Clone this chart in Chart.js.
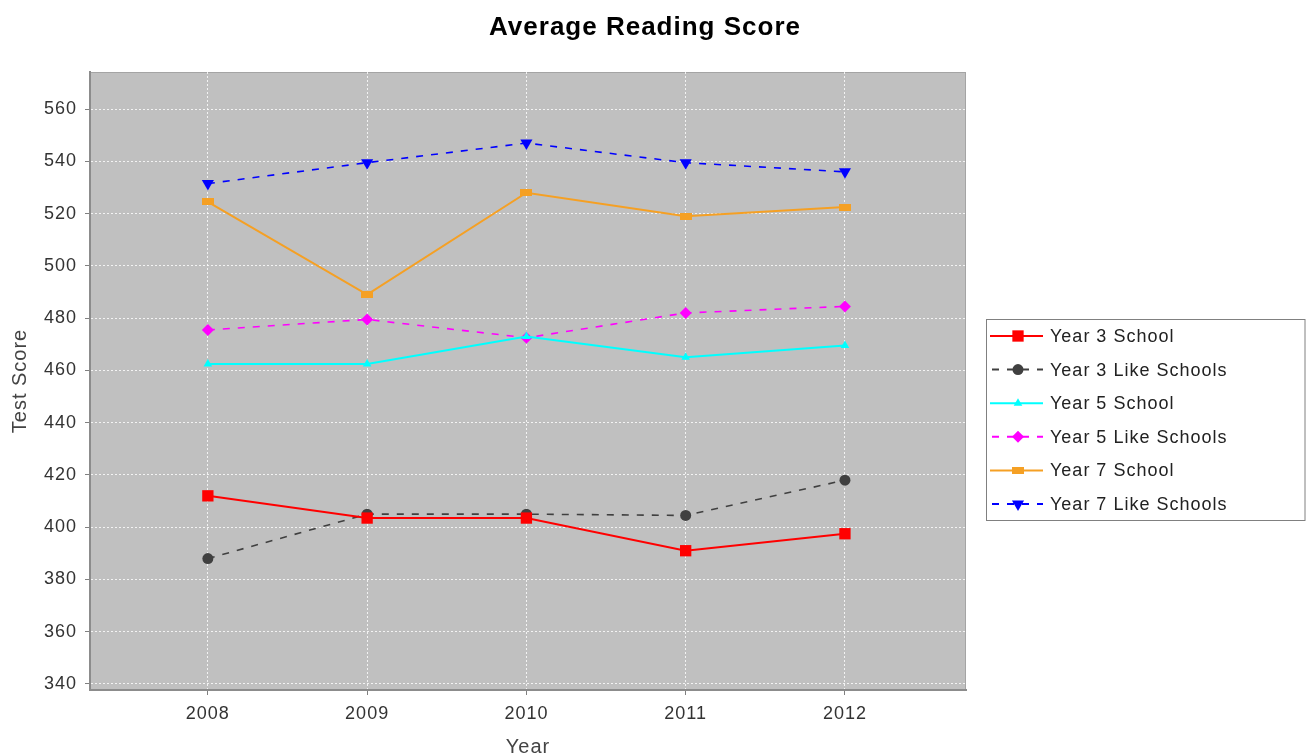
<!DOCTYPE html>
<html>
<head>
<meta charset="utf-8">
<title>Average Reading Score</title>
<script src="https://cdn.jsdelivr.net/npm/chart.js@4.4.1/dist/chart.umd.min.js"></script>
<style>
  html, body { margin: 0; background: #fff; }
  canvas { display: block; }
</style>
</head>
<body>
<canvas id="chart" width="1306" height="756"></canvas>
<script>
const years = [2008, 2009, 2010, 2011, 2012];
const yTickValues = [340, 360, 380, 400, 420, 440, 460, 480, 500, 520, 540, 560];
const seriesNames = ['Year 3 School', 'Year 3 Like Schools', 'Year 5 School', 'Year 5 Like Schools', 'Year 7 School', 'Year 7 Like Schools'];
const year3School = [412, 403.5, 403.5, 391, 397.5];
const year3Like   = [388, 405, 405, 404.5, 418];
const year5School = [462.5, 462.5, 473, 465, 469.5];
const year5Like   = [475.5, 479.5, 472.5, 482, 484.5];
const year7School = [524.5, 489, 528, 519, 522.5];
const year7Like   = [531.5, 539.5, 547, 539.5, 536];

const FONT = '"Liberation Sans", Arial, sans-serif';
const DASH = [7, 8];

// horizontal rectangle marker (JFreeChart style) as an image point style
function hRect(color){
  const c = document.createElement('canvas');
  c.width = 12; c.height = 7;
  const g = c.getContext('2d');
  g.fillStyle = color; g.fillRect(0, 0, 12, 7);
  return c;
}

function series(label, values, color, style, opts={}){
  return {
    label,
    data: values.map((v,i)=>({x: years[i], y: v})),
    borderColor: color, backgroundColor: color,
    pointBackgroundColor: color, pointBorderColor: color, pointBorderWidth: 0,
    borderWidth: 2, pointStyle: style, tension: 0,
    ...opts
  };
}

const datasets = [
  series(seriesNames[0], year3School, '#ff0000', 'rect', {pointRadius: 8}),
  series(seriesNames[1], year3Like, '#404040', 'circle', {pointRadius: 5.5, borderDash: DASH, borderWidth: 1.6}),
  series(seriesNames[2], year5School, '#00ffff', 'triangle', {pointRadius: 5}),
  series(seriesNames[3], year5Like, '#ff00ff', 'rectRot', {pointRadius: 6, borderDash: DASH, borderWidth: 1.6}),
  series(seriesNames[4], year7School, '#f5a024', hRect('#f5a024'), {pointRadius: 6}),
  series(seriesNames[5], year7Like, '#0000ff', 'triangle', {pointRadius: 7, pointRotation: 180, borderDash: DASH, borderWidth: 1.6})
];

function drawMarker(ctx, ds, x, y){
  const r = ds.pointRadius;
  ctx.fillStyle = ds.pointBackgroundColor;
  ctx.beginPath();
  const st = ds.pointStyle;
  if (st === 'rect') {
    const s = r * Math.SQRT1_2;
    ctx.rect(x - s, y - s, 2*s, 2*s);
  } else if (st === 'circle') {
    ctx.arc(x, y, r, 0, Math.PI*2);
  } else if (st === 'rectRot') {
    ctx.moveTo(x, y - r); ctx.lineTo(x + r, y); ctx.lineTo(x, y + r); ctx.lineTo(x - r, y);
  } else if (st === 'triangle') {
    const d = ds.pointRotation ? -1 : 1;
    ctx.moveTo(x, y - d*r);
    ctx.lineTo(x + r*0.866, y + d*r*0.5);
    ctx.lineTo(x - r*0.866, y + d*r*0.5);
  } else {
    ctx.drawImage(st, x - st.width/2, y - st.height/2);
    return;
  }
  ctx.closePath();
  ctx.fill();
}

const decor = {
  id: 'decor',
  beforeDraw(chart){
    const {ctx, chartArea: a} = chart;
    ctx.letterSpacing = '1px';
    ctx.save();
    ctx.fillStyle = '#c0c0c0';
    ctx.fillRect(a.left, a.top, a.right - a.left, a.bottom - a.top);
    ctx.strokeStyle = '#a4a4a4';
    ctx.lineWidth = 1;
    ctx.strokeRect(a.left + 0.5, a.top + 0.5, a.right - a.left - 1, a.bottom - a.top - 1);
    ctx.restore();
  },
  afterDraw(chart){
    const {ctx, chartArea: a} = chart;
    ctx.save();
    // title
    ctx.fillStyle = '#000';
    ctx.font = 'bold 26px ' + FONT;
    ctx.textAlign = 'center';
    ctx.textBaseline = 'alphabetic';
    ctx.fillText('Average Reading Score', 645, 35);

    // legend
    const bx = a.right + 20, by = 319, bw = chart.width - 1.5 - bx, bh = 201;
    ctx.fillStyle = '#fff';
    ctx.fillRect(bx, by, bw, bh);
    ctx.strokeStyle = '#808080';
    ctx.lineWidth = 1;
    ctx.strokeRect(bx + 0.5, by + 0.5, bw, bh);
    ctx.font = '18px ' + FONT;
    ctx.textAlign = 'left';
    ctx.textBaseline = 'middle';
    chart.data.datasets.forEach((ds, i) => {
      const y = by + 17 + i * 33.6;
      ctx.strokeStyle = ds.borderColor;
      ctx.lineWidth = 2;
      ctx.setLineDash(ds.borderDash || []);
      ctx.lineDashOffset = ds.borderDash ? -2 : 0;
      ctx.beginPath();
      ctx.moveTo(bx + 4, y); ctx.lineTo(bx + 57, y);
      ctx.stroke();
      ctx.setLineDash([]);
      drawMarker(ctx, ds, bx + 32, y);
      ctx.fillStyle = '#222';
      ctx.fillText(ds.label, bx + 64, y + 1);
    });
    ctx.restore();
  }
};

const gridCommon = {
  color: 'rgba(255,255,255,0.8)',
  lineWidth: 1,
  tickColor: '#808080',
  tickLength: 5,
  tickBorderDash: [],
  tickWidth: 1
};
const borderCommon = { color: '#8c8c8c', width: 2, dash: [2, 2] };

new Chart(document.getElementById('chart'), {
  type: 'line',
  data: { datasets },
  options: {
    responsive: false,
    animation: false,
    events: [],
    layout: { padding: { top: 72, right: 340, left: 0, bottom: 0 } },
    plugins: { legend: { display: false }, title: { display: false }, tooltip: { enabled: false } },
    scales: {
      x: {
        type: 'linear',
        min: 2007.26, max: 2012.76,
        afterBuildTicks: s => { s.ticks = years.map(v => ({value: v})); },
        afterFit: s => { s.height = 66; },
        grid: gridCommon,
        border: borderCommon,
        ticks: { color: '#333', padding: 8, font: { family: FONT, size: 18 }, callback: v => String(v) },
        title: { display: true, text: 'Year', color: '#444', font: { family: FONT, size: 20, lineHeight: 0.9 }, padding: { top: 0, bottom: 0 } }
      },
      y: {
        type: 'linear',
        min: 337.7, max: 574.2,
        afterBuildTicks: s => { s.ticks = yTickValues.map(v => ({value: v})); },
        afterFit: s => { s.width = 90; },
        grid: gridCommon,
        border: borderCommon,
        ticks: { color: '#333', padding: 8, font: { family: FONT, size: 18 }, callback: v => String(v) },
        title: { display: true, text: 'Test Score', color: '#444', font: { family: FONT, size: 20 }, padding: { top: 8, bottom: 0 } }
      }
    }
  },
  plugins: [decor]
});
</script>
</body>
</html>
